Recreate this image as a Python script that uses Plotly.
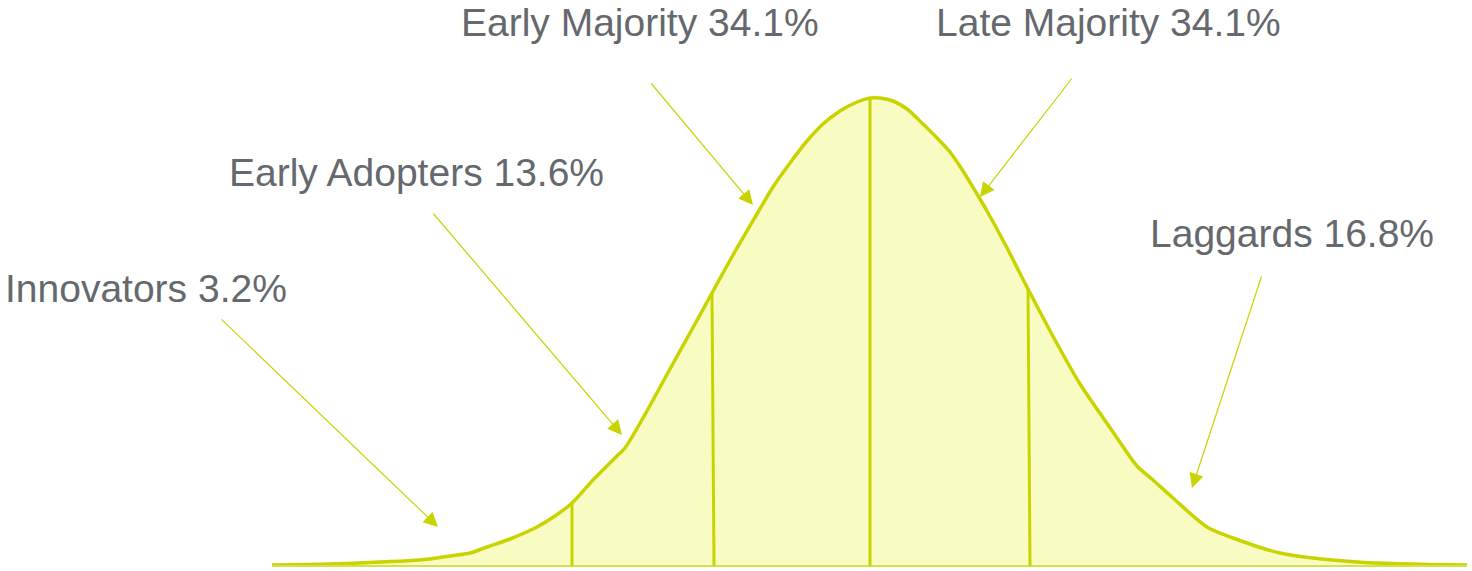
import plotly.graph_objects as go

# Bell curve outline (x in px-space, height above baseline)
curve_x = [272, 330, 380, 420, 450, 470, 487, 510, 537, 555, 572, 593, 618, 625, 643, 670,
           690, 712, 733, 757, 773, 790, 807, 823, 840, 857, 870, 880, 893, 907, 923, 940,
           950, 963, 977, 987, 1005, 1028, 1055, 1080, 1097, 1113, 1137, 1153, 1173, 1207,
           1233, 1280, 1357, 1467]
curve_y = [1, 2, 4, 6, 10, 13, 19, 27, 39, 50, 63, 86, 111, 118, 148, 197,
           233, 273, 311, 352, 379, 403, 425, 442, 455, 464, 468, 468, 465, 457, 442, 425,
           414, 395, 372, 355, 322, 277, 226, 182, 157, 134, 100, 86, 68, 39,
           28, 13, 4, 1]

# Segment dividers
divider_x_top = [572, 712, 870, 1028]
divider_x_bottom = [572, 714, 870, 1030]
divider_height = [63, 273, 468, 277]

# Labels
segments = ["Innovators", "Early Adopters", "Early Majority", "Late Majority", "Laggards"]
shares = [3.2, 13.6, 34.1, 34.1, 16.8]
label_x = [3, 227, 459, 934, 1148]
label_y = [278, 394, 544, 544, 333]

# Arrows: tail -> head
arrow_tail_x = [220, 432, 650, 1073, 1262]
arrow_tail_y = [248, 354, 484, 489, 291]
arrow_head_x = [438, 622, 753, 980, 1192]
arrow_head_y = [39, 131, 361, 369, 78]

LINE = "#c8d400"
FILL = "#f9fcc2"
TEXT = "#65686c"

fig = go.Figure()

fig.add_trace(go.Scatter(x=curve_x, y=curve_y, mode="lines", fill="tozeroy",
                         fillcolor=FILL, line=dict(color=LINE, width=3.5, shape="spline", smoothing=0.8),
                         hoverinfo="skip", showlegend=False))

# baseline
fig.add_trace(go.Scatter(x=[curve_x[0], curve_x[-1]], y=[0, 0], mode="lines",
                         line=dict(color="#d6e04a", width=2), hoverinfo="skip", showlegend=False))

for xt, xb, h in zip(divider_x_top, divider_x_bottom, divider_height):
    fig.add_trace(go.Scatter(x=[xb, xt], y=[0, h], mode="lines",
                             line=dict(color=LINE, width=3), hoverinfo="skip", showlegend=False))

annotations = []
for name, share, lx, ly in zip(segments, shares, label_x, label_y):
    annotations.append(dict(x=lx, y=ly, xref="x", yref="y", text=f"{name} {share}%",
                            showarrow=False, xanchor="left", yanchor="middle",
                            font=dict(family="Liberation Sans, Arial", size=39, color=TEXT)))
for tx, ty, hx, hy in zip(arrow_tail_x, arrow_tail_y, arrow_head_x, arrow_head_y):
    annotations.append(dict(x=hx, y=hy, ax=tx, ay=ty, xref="x", yref="y", axref="x", ayref="y",
                            text="", showarrow=True, arrowhead=2, arrowsize=2.4, arrowwidth=1.2,
                            arrowcolor=LINE, standoff=0))

fig.update_layout(
    width=1472, height=571,
    margin=dict(l=0, r=0, t=0, b=0),
    paper_bgcolor="white", plot_bgcolor="white",
    xaxis=dict(range=[0, 1472], visible=False, fixedrange=True),
    yaxis=dict(range=[-5, 566], visible=False, fixedrange=True),
    annotations=annotations,
    showlegend=False,
)

fig.write_html("out.html", config={"displayModeBar": False})
